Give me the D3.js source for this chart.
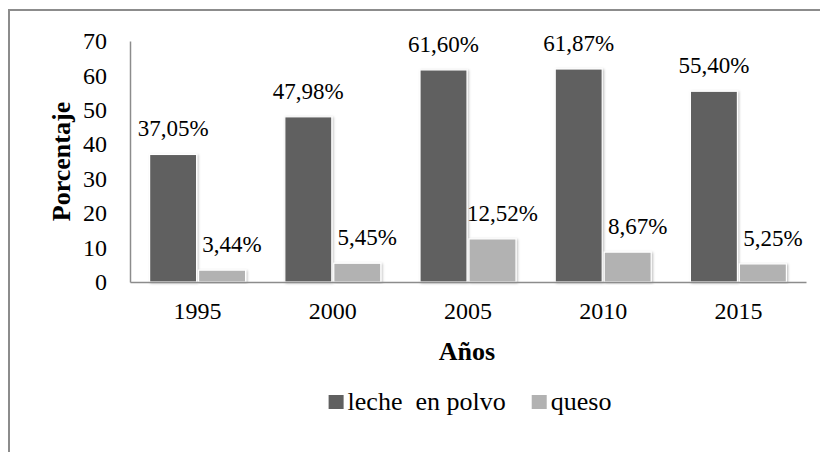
<!DOCTYPE html>
<html>
<head>
<meta charset="utf-8">
<script src="https://cdn.jsdelivr.net/npm/d3@7"></script>
<style>
	body { margin: 0; background: #fff; }
</style>
</head>
<body>
<div id="chart"></div>
<script>
(function () {

	var years = ["1995", "2000", "2005", "2010", "2015"];
	var seriesNames = ["leche  en polvo", "queso"];
	var lecheValues = [37.05, 47.98, 61.60, 61.87, 55.40];
	var quesoValues = [3.44, 5.45, 12.52, 8.67, 5.25];
	var yTicks = [0, 10, 20, 30, 40, 50, 60, 70];

	var FONT = "'Liberation Serif', serif";
	var colors = ["#606060", "#b2b2b2"];
	var width = 820, height = 452;
	var margin = {top: 41, right: 14, bottom: 170, left: 130};

	var rows = years.map(function (y, i) {
		return {year: y, values: [lecheValues[i], quesoValues[i]]};
	});

	var svg = d3.select("#chart").append("svg")
		.attr("width", width)
		.attr("height", height);

	// outer frame (right/bottom edges fall outside the picture)
	svg.append("rect")
		.attr("x", 9).attr("y", 10)
		.attr("width", 840).attr("height", 480)
		.attr("fill", "#fff")
		.attr("stroke", "#8c8c8c")
		.attr("stroke-width", 2);

	var defs = svg.append("defs");
	var f = defs.append("filter").attr("id", "shadow")
		.attr("x", "-20%").attr("y", "-10%").attr("width", "140%").attr("height", "120%");
	f.append("feDropShadow")
		.attr("dx", 1.2).attr("dy", 0.8)
		.attr("stdDeviation", 1.2)
		.attr("flood-color", "#000")
		.attr("flood-opacity", 0.25);

	var x0 = d3.scaleBand()
		.domain(years)
		.range([margin.left, width - margin.right])
		.paddingInner(0.29)
		.paddingOuter(0.145);

	var x1 = d3.scaleBand()
		.domain([0, 1])
		.range([0, x0.bandwidth()])
		.paddingInner(0.04);

	var y = d3.scaleLinear()
		.domain([0, 70])
		.range([height - margin.bottom, margin.top]);

	// bars
	var groups = svg.append("g").selectAll("g")
		.data(rows)
		.enter()
		.append("g")
		.attr("transform", d => "translate(" + x0(d.year) + ",0)");

	groups.selectAll("rect")
		.data(d => d.values.map((v, i) => ({s: i, v: v})))
		.enter()
		.append("rect")
		.attr("x", d => x1(d.s))
		.attr("y", d => y(d.v))
		.attr("width", x1.bandwidth())
		.attr("height", d => y(0) - y(d.v))
		.attr("fill", d => colors[d.s])
		.attr("stroke", "#fff")
		.attr("stroke-width", 1.2)
		.attr("filter", "url(#shadow)");

	// value labels
	groups.selectAll("text")
		.data(d => d.values.map((v, i) => ({s: i, v: v})))
		.enter()
		.append("text")
		.attr("x", d => x1(d.s) + x1.bandwidth() / 2 + (d.s == 1 ? 10 : 0))
		.attr("y", d => y(d.v) - 18)
		.attr("text-anchor", "middle")
		.style("font-family", FONT)
		.style("font-size", "23px")
		.attr("fill", "#000")
		.text(d => d.v.toFixed(2).replace(".", ",") + "%");

	// y axis
	var yAxis = svg.append("g")
		.attr("transform", "translate(" + margin.left + ",0)")
		.call(d3.axisLeft(y).tickValues(yTicks).tickSize(0).tickPadding(23));
	yAxis.select(".domain").attr("stroke", "#8c8c8c").attr("stroke-width", 1.5);
	yAxis.selectAll("text")
		.style("font-family", FONT)
		.style("font-size", "24px")
		.attr("fill", "#000");

	// x axis
	var xAxis = svg.append("g")
		.attr("transform", "translate(0," + y(0) + ")")
		.call(d3.axisBottom(x0).tickSize(0).tickPadding(20));
	xAxis.select(".domain").attr("stroke", "#8c8c8c").attr("stroke-width", 1.5);
	xAxis.selectAll("text")
		.style("font-family", FONT)
		.style("font-size", "24px")
		.attr("fill", "#000");

	// axis titles
	svg.append("text")
		.attr("transform", "translate(70," + ((y(0) + y(70)) / 2) + ") rotate(-90)")
		.attr("text-anchor", "middle")
		.style("font-family", FONT)
		.style("font-size", "26px")
		.style("font-weight", "bold")
		.text("Porcentaje");

	svg.append("text")
		.attr("x", 467)
		.attr("y", 360)
		.attr("text-anchor", "middle")
		.style("font-family", FONT)
		.style("font-size", "26px")
		.style("font-weight", "bold")
		.text("Años");

	// legend
	var legend = svg.append("g");
	var cursor = 0;
	seriesNames.forEach(function (name, i) {
		var item = legend.append("g").attr("transform", "translate(" + cursor + ",0)");
		item.append("rect")
			.attr("x", 0).attr("y", -15)
			.attr("width", 15).attr("height", 14)
			.attr("fill", colors[i]);
		var t = item.append("text")
			.attr("x", 19).attr("y", 0)
			.style("font-family", FONT)
			.style("font-size", "26px")
			.style("white-space", "pre")
			.text(name);
		cursor += 19 + t.node().getComputedTextLength() + 26;
	});
	var legendW = cursor - 26;
	legend.attr("transform", "translate(" + (470 - legendW / 2) + ",410)");

}());
</script>
</body>
</html>
